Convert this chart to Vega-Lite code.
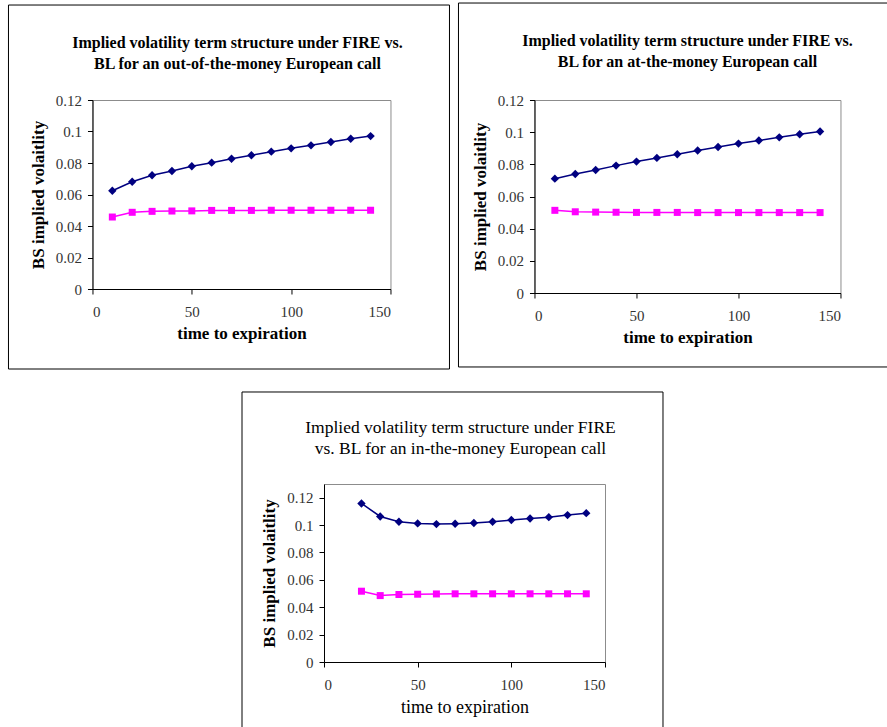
{
  "$schema": "https://vega.github.io/schema/vega-lite/v6.json",
  "padding": {"left": 7, "top": 2, "right": 0, "bottom": 0},
  "background": "white",
  "datasets": {
    "otm": [
      {"t": 10, "vol": 0.0624, "model": "FIRE"}, {"t": 20, "vol": 0.0681, "model": "FIRE"},
      {"t": 30, "vol": 0.0722, "model": "FIRE"}, {"t": 40, "vol": 0.0749, "model": "FIRE"},
      {"t": 50, "vol": 0.0779, "model": "FIRE"}, {"t": 60, "vol": 0.0802, "model": "FIRE"},
      {"t": 70, "vol": 0.0827, "model": "FIRE"}, {"t": 80, "vol": 0.0849, "model": "FIRE"},
      {"t": 90, "vol": 0.0872, "model": "FIRE"}, {"t": 100, "vol": 0.0893, "model": "FIRE"},
      {"t": 110, "vol": 0.0912, "model": "FIRE"}, {"t": 120, "vol": 0.0933, "model": "FIRE"},
      {"t": 130, "vol": 0.0954, "model": "FIRE"}, {"t": 140, "vol": 0.0971, "model": "FIRE"},
      {"t": 10, "vol": 0.0457, "model": "BL"}, {"t": 20, "vol": 0.0487, "model": "BL"},
      {"t": 30, "vol": 0.0493, "model": "BL"}, {"t": 40, "vol": 0.0495, "model": "BL"},
      {"t": 50, "vol": 0.0496, "model": "BL"}, {"t": 60, "vol": 0.0499, "model": "BL"},
      {"t": 70, "vol": 0.0499, "model": "BL"}, {"t": 80, "vol": 0.0499, "model": "BL"},
      {"t": 90, "vol": 0.05, "model": "BL"}, {"t": 100, "vol": 0.05, "model": "BL"},
      {"t": 110, "vol": 0.05, "model": "BL"}, {"t": 120, "vol": 0.05, "model": "BL"},
      {"t": 130, "vol": 0.05, "model": "BL"}, {"t": 140, "vol": 0.05, "model": "BL"}
    ],
    "atm": [
      {"t": 10, "vol": 0.0711, "model": "FIRE"}, {"t": 20, "vol": 0.074, "model": "FIRE"},
      {"t": 30, "vol": 0.0765, "model": "FIRE"}, {"t": 40, "vol": 0.0792, "model": "FIRE"},
      {"t": 50, "vol": 0.0817, "model": "FIRE"}, {"t": 60, "vol": 0.084, "model": "FIRE"},
      {"t": 70, "vol": 0.0863, "model": "FIRE"}, {"t": 80, "vol": 0.0886, "model": "FIRE"},
      {"t": 90, "vol": 0.0908, "model": "FIRE"}, {"t": 100, "vol": 0.0929, "model": "FIRE"},
      {"t": 110, "vol": 0.0948, "model": "FIRE"}, {"t": 120, "vol": 0.0968, "model": "FIRE"},
      {"t": 130, "vol": 0.0987, "model": "FIRE"}, {"t": 140, "vol": 0.1004, "model": "FIRE"},
      {"t": 10, "vol": 0.0514, "model": "BL"}, {"t": 20, "vol": 0.0505, "model": "BL"},
      {"t": 30, "vol": 0.0503, "model": "BL"}, {"t": 40, "vol": 0.0502, "model": "BL"},
      {"t": 50, "vol": 0.0501, "model": "BL"}, {"t": 60, "vol": 0.0501, "model": "BL"},
      {"t": 70, "vol": 0.0501, "model": "BL"}, {"t": 80, "vol": 0.05, "model": "BL"},
      {"t": 90, "vol": 0.05, "model": "BL"}, {"t": 100, "vol": 0.05, "model": "BL"},
      {"t": 110, "vol": 0.05, "model": "BL"}, {"t": 120, "vol": 0.05, "model": "BL"},
      {"t": 130, "vol": 0.05, "model": "BL"}, {"t": 140, "vol": 0.05, "model": "BL"}
    ],
    "itm": [
      {"t": 20, "vol": 0.1158, "model": "FIRE"}, {"t": 30, "vol": 0.1063, "model": "FIRE"},
      {"t": 40, "vol": 0.1024, "model": "FIRE"}, {"t": 50, "vol": 0.1012, "model": "FIRE"},
      {"t": 60, "vol": 0.1007, "model": "FIRE"}, {"t": 70, "vol": 0.101, "model": "FIRE"},
      {"t": 80, "vol": 0.1015, "model": "FIRE"}, {"t": 90, "vol": 0.1024, "model": "FIRE"},
      {"t": 100, "vol": 0.1037, "model": "FIRE"}, {"t": 110, "vol": 0.1048, "model": "FIRE"},
      {"t": 120, "vol": 0.1058, "model": "FIRE"}, {"t": 130, "vol": 0.1073, "model": "FIRE"},
      {"t": 140, "vol": 0.1087, "model": "FIRE"},
      {"t": 20, "vol": 0.0517, "model": "BL"}, {"t": 30, "vol": 0.0485, "model": "BL"},
      {"t": 40, "vol": 0.0493, "model": "BL"}, {"t": 50, "vol": 0.0495, "model": "BL"},
      {"t": 60, "vol": 0.0497, "model": "BL"}, {"t": 70, "vol": 0.0498, "model": "BL"},
      {"t": 80, "vol": 0.0498, "model": "BL"}, {"t": 90, "vol": 0.0498, "model": "BL"},
      {"t": 100, "vol": 0.0498, "model": "BL"}, {"t": 110, "vol": 0.0498, "model": "BL"},
      {"t": 120, "vol": 0.0498, "model": "BL"}, {"t": 130, "vol": 0.0498, "model": "BL"},
      {"t": 140, "vol": 0.0498, "model": "BL"}
    ]
  },
  "config": {
    "font": "Liberation Serif",
    "view": {"stroke": "#8c8c8c", "strokeWidth": 1},
    "axis": {
      "grid": false, "domainColor": "#000", "domainWidth": 1, "tickColor": "#000", "tickSize": 5,
      "labelFont": "Liberation Serif", "labelFontSize": 15, "labelColor": "#333", "labelOverlap": false,
      "titleFont": "Liberation Serif", "titleFontSize": 17, "titleFontWeight": "bold", "titleColor": "#000"
    },
    "axisX": {"labelPadding": 10, "titlePadding": 6},
    "axisY": {"labelPadding": 6, "titlePadding": 8},
    "title": {"font": "Liberation Serif", "fontSize": 16, "fontWeight": "bold", "color": "#000", "anchor": "middle", "frame": "group", "offset": -67, "lineHeight": 21}
  },
  "vconcat": [
    {
      "hconcat": [
        {
          "title": {"text": ["Implied volatility term structure under FIRE vs.", "BL for an out-of-the-money European call"], "dx": -4},
          "width": 298, "height": 189,
          "layer": [
            {
              "data": {"name": "otm"},
              "layer": [
                {"mark": {"type": "line", "strokeWidth": 1.5},
                 "encoding": {
                   "x": {"field": "t", "type": "quantitative", "scale": {"domain": [0, 150], "nice": false, "zero": false}, "axis": {"title": "time to expiration", "values": [0, 50, 100, 150], "tickCount": 10, "labelOverlap": false}},
                   "y": {"field": "vol", "type": "quantitative", "scale": {"domain": [0, 0.12], "nice": false}, "axis": {"title": "BS implied volaitlity", "values": [0, 0.02, 0.04, 0.06, 0.08, 0.1, 0.12], "tickCount": 10, "format": ".2~f", "labelOverlap": false}},
                   "color": {"field": "model", "type": "nominal", "scale": {"domain": ["FIRE", "BL"], "range": ["#000080", "#FF00FF"]}, "legend": null}
                 }},
                {"mark": {"type": "point", "filled": true, "opacity": 1},
                 "encoding": {
                   "x": {"field": "t", "type": "quantitative"},
                   "y": {"field": "vol", "type": "quantitative"},
                   "color": {"field": "model", "type": "nominal", "legend": null},
                   "shape": {"field": "model", "type": "nominal", "scale": {"domain": ["FIRE", "BL"], "range": ["diamond", "square"]}, "legend": null},
                   "size": {"field": "model", "type": "nominal", "scale": {"domain": ["FIRE", "BL"], "range": [70, 49]}, "legend": null}
                 }}
              ]
            },
            {
              "data": {"values": [{}]},
              "mark": {"type": "rect", "fill": null, "stroke": "#000", "strokeWidth": 1, "clip": false},
              "encoding": {
                "x": {"datum": -42.28, "type": "quantitative", "axis": {"title": "time to expiration", "values": [0, 50, 100, 150], "tickCount": 10, "labelOverlap": false}},
                "x2": {"datum": 179.7},
                "y": {"datum": 0.1803, "type": "quantitative", "axis": {"title": "BS implied volaitlity", "values": [0, 0.02, 0.04, 0.06, 0.08, 0.1, 0.12], "tickCount": 10, "format": ".2~f", "labelOverlap": false}},
                "y2": {"datum": -0.0508}
              }
            }
          ]
        },
        {
          "title": {"text": ["Implied volatility term structure under FIRE vs.", "BL for an at-the-money European call"]},
          "width": 306, "height": 193,
          "layer": [
            {
              "data": {"name": "atm"},
              "layer": [
                {"mark": {"type": "line", "strokeWidth": 1.5},
                 "encoding": {
                   "x": {"field": "t", "type": "quantitative", "scale": {"domain": [0, 150], "nice": false, "zero": false}, "axis": {"title": "time to expiration", "values": [0, 50, 100, 150], "tickCount": 10, "labelOverlap": false}},
                   "y": {"field": "vol", "type": "quantitative", "scale": {"domain": [0, 0.12], "nice": false}, "axis": {"title": "BS implied volaitlity", "values": [0, 0.02, 0.04, 0.06, 0.08, 0.1, 0.12], "tickCount": 10, "format": ".2~f", "labelOverlap": false}},
                   "color": {"field": "model", "type": "nominal", "scale": {"domain": ["FIRE", "BL"], "range": ["#000080", "#FF00FF"]}, "legend": null}
                 }},
                {"mark": {"type": "point", "filled": true, "opacity": 1},
                 "encoding": {
                   "x": {"field": "t", "type": "quantitative"},
                   "y": {"field": "vol", "type": "quantitative"},
                   "color": {"field": "model", "type": "nominal", "legend": null},
                   "shape": {"field": "model", "type": "nominal", "scale": {"domain": ["FIRE", "BL"], "range": ["diamond", "square"]}, "legend": null},
                   "size": {"field": "model", "type": "nominal", "scale": {"domain": ["FIRE", "BL"], "range": [70, 49]}, "legend": null}
                 }}
              ]
            },
            {
              "data": {"values": [{}]},
              "mark": {"type": "rect", "fill": null, "stroke": "#000", "strokeWidth": 1, "clip": false},
              "encoding": {
                "x": {"datum": -37.25, "type": "quantitative", "axis": {"title": "time to expiration", "values": [0, 50, 100, 150], "tickCount": 10, "labelOverlap": false}},
                "x2": {"datum": 176.5},
                "y": {"datum": 0.1803, "type": "quantitative", "axis": {"title": "BS implied volaitlity", "values": [0, 0.02, 0.04, 0.06, 0.08, 0.1, 0.12], "tickCount": 10, "format": ".2~f", "labelOverlap": false}},
                "y2": {"datum": -0.046}
              }
            }
          ]
        }
      ],
      "spacing": 6
    },
    {
      "title": {"text": ["Implied volatility term structure under FIRE", "vs. BL for an in-the-money European call"], "fontWeight": "normal", "fontSize": 17.5, "offset": -66, "dx": -4},
      "width": 281, "height": 178,
      "layer": [
        {
          "data": {"name": "itm"},
          "layer": [
            {"mark": {"type": "line", "strokeWidth": 1.5},
             "encoding": {
               "x": {"field": "t", "type": "quantitative", "scale": {"domain": [0, 150], "nice": false, "zero": false}, "axis": {"title": "time to expiration", "titleFontWeight": "normal", "titleFontSize": 18, "values": [0, 50, 100, 150], "tickCount": 10, "labelOverlap": false}},
               "y": {"field": "vol", "type": "quantitative", "scale": {"domain": [0, 0.13], "nice": false}, "axis": {"title": "BS implied volaitlity", "titleFontSize": 17, "values": [0, 0.02, 0.04, 0.06, 0.08, 0.1, 0.12], "tickCount": 10, "format": ".2~f", "labelOverlap": false}},
               "color": {"field": "model", "type": "nominal", "scale": {"domain": ["FIRE", "BL"], "range": ["#000080", "#FF00FF"]}, "legend": null}
             }},
            {"mark": {"type": "point", "filled": true, "opacity": 1},
             "encoding": {
               "x": {"field": "t", "type": "quantitative"},
               "y": {"field": "vol", "type": "quantitative"},
               "color": {"field": "model", "type": "nominal", "legend": null},
               "shape": {"field": "model", "type": "nominal", "scale": {"domain": ["FIRE", "BL"], "range": ["diamond", "square"]}, "legend": null},
               "size": {"field": "model", "type": "nominal", "scale": {"domain": ["FIRE", "BL"], "range": [70, 49]}, "legend": null}
             }}
          ]
        },
        {
          "data": {"values": [{}]},
          "mark": {"type": "rect", "fill": null, "stroke": "#000", "strokeWidth": 1, "clip": false},
          "encoding": {
            "x": {"datum": -43.77, "type": "quantitative", "axis": {"title": "time to expiration", "titleFontWeight": "normal", "titleFontSize": 18, "values": [0, 50, 100, 150], "tickCount": 10, "labelOverlap": false}},
            "x2": {"datum": 180.96},
            "y": {"datum": 0.1972, "type": "quantitative", "axis": {"title": "BS implied volaitlity", "titleFontSize": 17, "values": [0, 0.02, 0.04, 0.06, 0.08, 0.1, 0.12], "tickCount": 10, "format": ".2~f", "labelOverlap": false}},
            "y2": {"datum": -0.057}
          }
        }
      ]
    }
  ],
  "spacing": 19,
  "center": true
}
